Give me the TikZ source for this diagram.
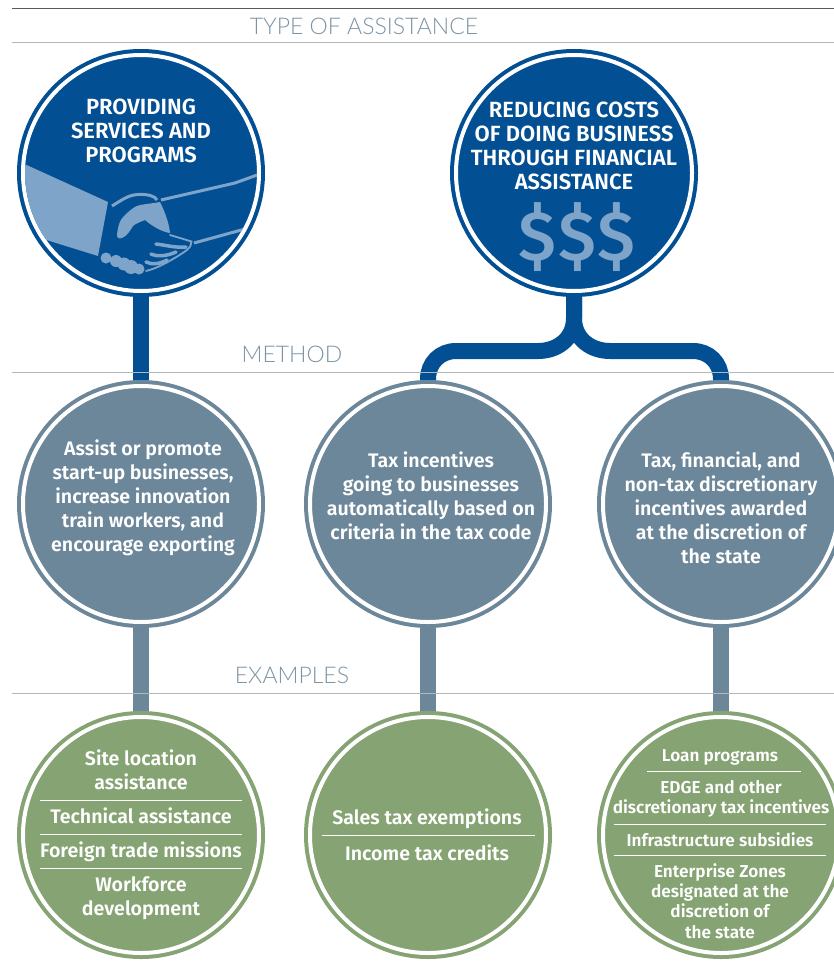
\documentclass[tikz,border=0pt]{standalone}
\usepackage{fontspec}
\setmainfont[BoldFont={Fira Sans SemiBold}]{Fira Sans}
\newfontfamily\headfont{Lato Light}
\newfontfamily\dollarfont{Fira Sans Medium}
\usetikzlibrary{backgrounds}
\definecolor{navy}{HTML}{034F93}
\definecolor{paleblue}{HTML}{7FA4C9}
\definecolor{slate}{HTML}{6C8799}
\definecolor{sage}{HTML}{85A373}
\definecolor{rulegrey}{HTML}{B4B7B8}
\tikzset{
  disc/.style={circle, inner sep=0pt, minimum size=236pt, fill=#1, draw=white,
    line width=4pt, preaction={draw=#1, line width=12pt}},
  heading/.style={font=\headfont\fontsize{23}{23}\selectfont, text=slate!90!white},
  label/.style={align=center, text=white, font=\bfseries\fontsize{19.6}{24}\selectfont},
  capslabel/.style={align=center, text=white, font=\bfseries\fontsize{22}{24}\selectfont},
  smalllabel/.style={align=center, text=white, font=\bfseries\fontsize{17.2}{20.4}\selectfont},
  stem/.style={line width=16pt, draw=#1},
  divider/.style={white, line width=0.8pt},
  hand/.style={paleblue, line width=3pt}
}
\begin{document}
\begin{tikzpicture}[x=1pt, y=-1pt]
\useasboundingbox (0,0) rectangle (834,963);
% Rules
    \draw[black!65, line width=1pt] (12,9) -- (834,9);
    \draw[rulegrey, line width=1pt] (12,43) -- (834,43);
    \draw[rulegrey, line width=1pt] (12,372) -- (834,372);
    \draw[rulegrey, line width=1pt] (12,693) -- (834,693);
% Headings
    \node[heading] (typehead) at (364,26) {TYPE OF ASSISTANCE};
    \node[heading] (methodhead) at (292,354) {METHOD};
    \node[heading] (examplehead) at (292,675) {EXAMPLES};
% Discs
    \node[disc=navy] (services) at (141,173) {};
    \node[disc=navy] (costs) at (574,173) {};
    \node[disc=slate] (assist) at (141,504) {};
    \node[disc=slate] (automatic) at (428,504) {};
    \node[disc=slate] (discretion) at (721,504) {};
    \node[disc=sage] (exampleA) at (141,835) {};
    \node[disc=sage] (exampleB) at (428,835) {};
    \node[disc=sage] (exampleC) at (721,835) {};
% Stems
    \begin{scope}[on background layer]
    \draw[stem=navy] (services) -- (assist);
    \draw[stem=navy] (costs.south) -- (574,318) .. controls (574,340) and (556,351) .. (538,351) -- (456,351) .. controls (440,351) and (428,363) .. (428,379) -- (automatic.north);
    \draw[stem=navy] (costs.south) -- (574,318) .. controls (574,340) and (592,351) .. (610,351) -- (693,351) .. controls (709,351) and (721,363) .. (721,379) -- (discretion.north);
    \draw[stem=slate] (assist) -- (exampleA);
    \draw[stem=slate] (automatic) -- (exampleB);
    \draw[stem=slate] (discretion) -- (exampleC);
    \end{scope}
% Handshake
    \begin{scope}
    \clip (141,173) circle (116);
    \fill[paleblue] (20,162) -- (108,202) -- (98,256) -- (40,238) -- (15,200) -- cycle;
    \draw[hand] (161,200) -- (235,183) -- (260,174);
    \draw[hand] (194,243) -- (245,229);
    \end{scope}
    \draw[hand] (112,206) .. controls (122,200) and (128,195) .. (138,194.5) .. controls (148,194) and (155,196) .. (157,200);
    \fill[paleblue] (117,235) .. controls (118,225) and (120,220) .. (124,216) .. controls (130,210) and (135,206) .. (140,205) .. controls (146,204) and (155,203) .. (160,202) .. controls (164,210) and (169,222) .. (170,233) .. controls (162,232) and (152,226) .. (145,220) .. controls (140,222) and (135,224) .. (133,226) .. controls (130,231) and (127,236) .. (122,238) .. controls (119,239) and (117,238) .. (117,235) -- cycle;
    \draw[paleblue, line width=1.8pt, line cap=round] (170,235) -- (191.5,241.5) .. controls (192,248) and (184,252) .. (178,256) .. controls (168,262) and (158,268) .. (146,271);
    \draw[paleblue, line width=3.5pt, line cap=round] (156,244) .. controls (165,245) and (175,248) .. (186,247);
    \draw[paleblue, line width=3.5pt, line cap=round] (151,254) .. controls (158,257) and (167,256) .. (176,252);
    \draw[paleblue, line width=3.5pt, line cap=round] (146,262) .. controls (152,265) and (160,264) .. (167,260);
    \fill[paleblue] (106,258) circle (5.5);
    \fill[paleblue] (116,261) circle (6);
    \fill[paleblue] (124,264) circle (6.5);
    \fill[paleblue] (131,267) circle (7);
    \fill[paleblue] (139,269) circle (5.5);
% Dollars
    \node[text=paleblue, font=\dollarfont\fontsize{70}{70}\selectfont] (dollars) at (577,237) {\$\hspace{2pt}\$\hspace{2pt}\$};
% Disc texts
    \node[capslabel] (servicestext) at (141,131) {PROVIDING\\SERVICES AND\\PROGRAMS};
    \node[capslabel] (coststext) at (574,146) {REDUCING COSTS\\OF DOING BUSINESS\\THROUGH FINANCIAL\\ASSISTANCE};
    \node[label] (assisttext) at (143,498) {Assist or promote\\start-up businesses,\\increase innovation\\train workers, and\\encourage exporting};
    \node[label] (automatictext) at (431,496) {Tax incentives\\going to businesses\\automatically based on\\criteria in the tax code};
    \node[label] (discretiontext) at (721,508) {Tax, financial, and\\non-tax discretionary\\incentives awarded\\at the discretion of\\the state};
% Examples
    \node[label] (site) at (141,769.5) {Site location\\assistance};
    \draw[divider] (40,800) -- (242,800);
    \node[label] (technical) at (141,816) {Technical assistance};
    \draw[divider] (40,834) -- (242,834);
    \node[label] (foreign) at (141,852) {Foreign trade missions};
    \draw[divider] (40,868) -- (242,868);
    \node[label] (workforce) at (141,898.5) {Workforce\\development};
    \node[label] (sales) at (427,819) {Sales tax exemptions};
    \draw[divider] (322,835) -- (535,835);
    \node[label] (income) at (427,853) {Income tax credits};
    \node[smalllabel] (loan) at (720,757) {Loan programs};
    \draw[divider] (647,771) -- (801,771);
    \node[smalllabel] (edge) at (721,799) {EDGE and other\\discretionary tax incentives};
    \draw[divider] (614,824) -- (826,824);
    \node[smalllabel] (infra) at (720,840) {Infrastructure subsidies};
    \draw[divider] (614,855) -- (826,855);
    \node[smalllabel] (zones) at (720,901) {Enterprise Zones\\designated at the\\discretion of\\the state};
\end{tikzpicture}
\end{document}
